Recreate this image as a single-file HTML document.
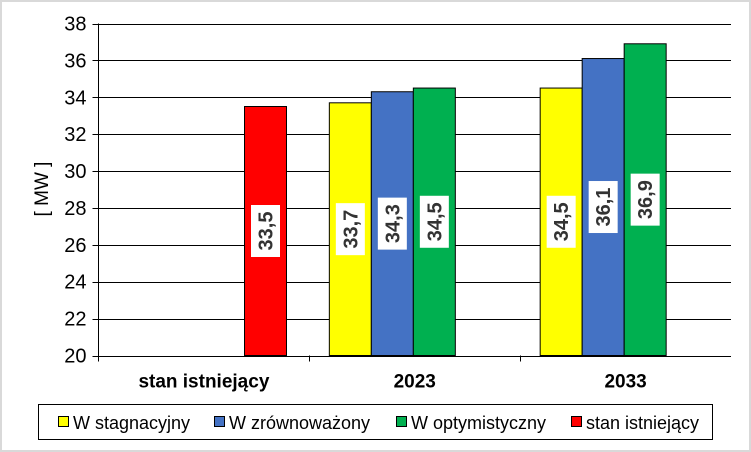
<!DOCTYPE html>
<html><head><meta charset="utf-8"><style>
body{margin:0;background:#fff}
svg{display:block;font-family:"Liberation Sans",sans-serif}
</style></head><body>
<svg id="c" width="751" height="452">
<rect x="1" y="1" width="749" height="450" fill="#fff" stroke="#d9d9d9" stroke-width="2"/>
<g id="grid"></g><g id="bars"></g><g id="axes"></g>
<text transform="translate(48,189) rotate(-90)" text-anchor="middle" font-size="19">[ MW ]</text>
<g>
<rect x="38.5" y="404.5" width="674" height="35" fill="#fff" stroke="#000"/>
<rect x="58.5" y="416.5" width="10" height="10" fill="#ffff00" stroke="#000"/>
<text x="73" y="429" font-size="18">W stagnacyjny</text>
<rect x="214.5" y="416.5" width="10" height="10" fill="#4472c4" stroke="#000"/>
<text x="229" y="429" font-size="18">W zrównoważony</text>
<rect x="396.5" y="416.5" width="10" height="10" fill="#00b050" stroke="#000"/>
<text x="411" y="429" font-size="18">W optymistyczny</text>
<rect x="571.5" y="416.5" width="10" height="10" fill="#ff0000" stroke="#000"/>
<text x="586" y="429" font-size="18">stan istniejący</text>
</g>
</svg>
<script>
const categories=["stan istniejący","2023","2033"];
const seriesNames=["W stagnacyjny","W zrównoważony","W optymistyczny","stan istniejący"];
const stagnacyjny=[null,33.7,34.5];
const zrownowazony=[null,34.3,36.1];
const optymistyczny=[null,34.5,36.9];
const stanIstniejacy=[33.5,null,null];
const yTicks=[20,22,24,26,28,30,32,34,36,38];
const colors=["#ffff00","#4472c4","#00b050","#ff0000"];
const series=[stagnacyjny,zrownowazony,optymistyczny,stanIstniejacy];
const NS="http://www.w3.org/2000/svg";
const L=98.5,R=731,T=23.5,B=355.5,ymin=20,ymax=38;
const gw=(R-L)/categories.length,bw=42,off=20;
const y=v=>B-(v-ymin)/(ymax-ymin)*(B-T);
function mk(t,a,p){const e=document.createElementNS(NS,t);for(const k in a)e.setAttribute(k,a[k]);p.appendChild(e);return e;}
const grid=document.getElementById('grid'),bars=document.getElementById('bars'),axes=document.getElementById('axes');
yTicks.forEach(v=>{
 const l=mk('line',{x1:L-6,x2:R,y1:Math.round(y(v))+0.5,y2:Math.round(y(v))+0.5,stroke:'#000'},grid);
 
 
 const t=mk('text',{x:L-12,y:y(v)+7,'text-anchor':'end','font-size':20},axes);
 t.textContent=v;
 
 
});
mk('line',{x1:L,x2:L,y1:T,y2:B+6,stroke:'#000'},axes);
categories.forEach((c,i)=>{
 const gx=L+i*gw;
 if(i>0){mk('line',{x1:Math.round(gx)+0.5,x2:Math.round(gx)+0.5,y1:B,y2:B+6,stroke:'#000'},axes);}
 const t=mk('text',{x:gx+gw/2,y:B+32,'text-anchor':'middle','font-size':19,'font-weight':'bold'},axes);
 t.textContent=c;
 
 
 series.forEach((s,j)=>{
  const v=s[i]; if(v==null)return;
  const x=gx+off+j*bw,yt=y(v);
  const r=mk('rect',{x:x,y:yt,width:bw,height:B-yt,fill:colors[j],stroke:'#000','stroke-width':1},bars);
  
  
  const cx=x+bw/2,cy=(yt+B)/2;
  mk('rect',{x:cx-14.5,y:cy-26,width:29,height:52,fill:'#fff'},bars);
  const lt=mk('text',{x:0,y:0,transform:`translate(${cx+7},${cy}) rotate(-90)`,'text-anchor':'middle','font-size':20,'font-weight':'bold',fill:'#333'},bars);
  lt.textContent=String(v).replace('.',',');
  
  
 });
});
</script>
</body></html>
